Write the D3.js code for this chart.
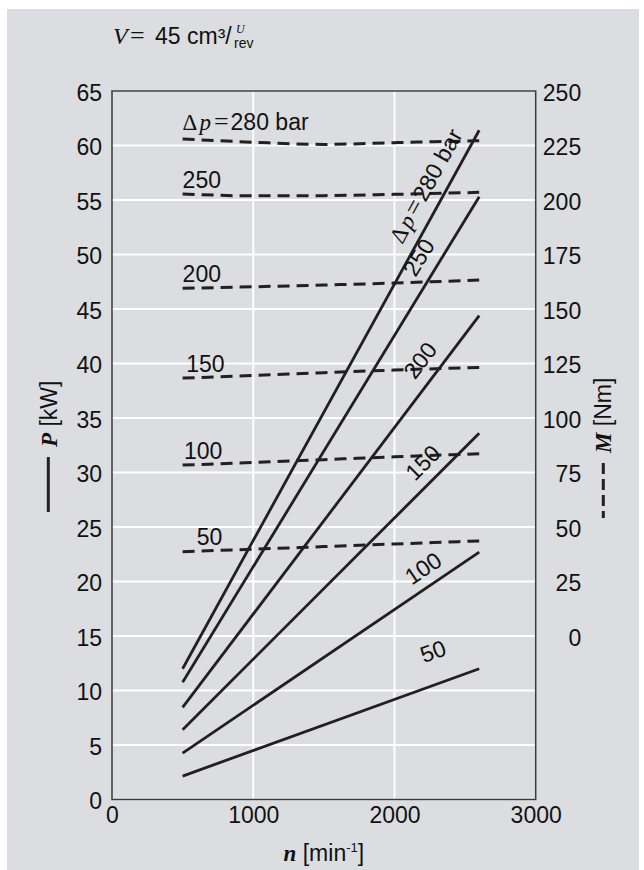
<!DOCTYPE html>
<html>
<head>
<meta charset="utf-8">
<script src="https://cdn.jsdelivr.net/npm/d3@7"></script>
<style>
  html, body { margin: 0; padding: 0; background: #ffffff; }
  svg { display: block; }
</style>
</head>
<body>
<script>
// ---------------- DATA ----------------
const nTicks = [0, 1000, 2000, 3000];
const pTicks = [0, 5, 10, 15, 20, 25, 30, 35, 40, 45, 50, 55, 60, 65];
const mTicks = [0, 25, 50, 75, 100, 125, 150, 175, 200, 225, 250];
const pressures = [280, 250, 200, 150, 100, 50];

// Power P [kW] (solid), at n = 500 and n = 2600
const powerN = [500, 2600];
const power280 = [12.0, 61.4];
const power250 = [10.75, 55.3];
const power200 = [8.45, 44.4];
const power150 = [6.4, 33.6];
const power100 = [4.25, 22.7];
const power50 = [2.15, 12.0];

// Torque M [Nm] (dashed)
const torqueN = [500, 1000, 1500, 2000, 2600];
const torque280 = [228.0, 226.5, 225.5, 226.3, 227.2];
const torque250 = [202.8, 201.9, 202.0, 202.6, 203.5];
const torque200 = [159.5, 160.2, 161.0, 161.9, 163.3];
const torque150 = [118.3, 119.5, 120.8, 122.0, 123.2];
const torque100 = [78.4, 79.6, 80.9, 82.2, 83.6];
const torque50 = [38.7, 39.8, 41.0, 42.2, 43.6];

const powerSeries = [power280, power250, power200, power150, power100, power50];
const torqueSeries = [torque280, torque250, torque200, torque150, torque100, torque50];

// label anchors (n along the curve)
const torqueLabelN = [500, 500, 500, 525, 510, 600];
const powerLabelN = [2130, 2222, 2213, 2200, 2162, 2265];
const powerLabelOff = [12, 12, 12, 11, 10, 24];

// ---------------- LAYOUT ----------------
const W = 644, H = 870;
const sans = "'Liberation Sans', Arial, Helvetica, sans-serif";
const serif = "'Liberation Serif', 'Times New Roman', Times, serif";
const FS = 23;
const ink = "#231f20";

const svg = d3.select("body").append("svg").attr("width", W).attr("height", H);
svg.append("rect").attr("x", 7).attr("y", 9).attr("width", 632).attr("height", H - 9).attr("fill", "#dcdde0");

const x = d3.scaleLinear().domain([0, 3000]).range([112, 535.7]);
const yP = d3.scaleLinear().domain([0, 65]).range([799.5, 91]);
const yM = d3.scaleLinear().domain([0, 250]).range([yP(15), yP(65)]);

// grid
const grid = svg.append("g");
grid.selectAll("line.h").data(pTicks).join("line")
  .attr("x1", x(0)).attr("x2", x(3000))
  .attr("y1", d => yP(d)).attr("y2", d => yP(d))
  .attr("stroke", "#ffffff").attr("stroke-width", 2);
grid.selectAll("line.v").data(nTicks.slice(1, 3)).join("line")
  .attr("class", "v")
  .attr("x1", d => x(d)).attr("x2", d => x(d))
  .attr("y1", yP(0)).attr("y2", yP(65))
  .attr("stroke", "#ffffff").attr("stroke-width", 2);

// frame
svg.append("rect").attr("x", x(0)).attr("y", yP(65))
  .attr("width", x(3000) - x(0)).attr("height", yP(0) - yP(65))
  .attr("fill", "none").attr("stroke", "#3a3a3a").attr("stroke-width", 1.5);

// axes
function styleAxis(g) {
  g.select(".domain").remove();
  g.selectAll("text").attr("font-family", sans).attr("font-size", FS).attr("fill", "#111");
}
svg.append("g").attr("transform", `translate(${x(0)},0)`)
  .call(d3.axisLeft(yP).tickValues(pTicks).tickSize(0).tickPadding(10).tickFormat(d3.format("d")))
  .call(styleAxis)
  .call(g => g.selectAll("text").attr("dy", "0.4em"));

svg.append("g").attr("transform", `translate(${x(3000)},0)`)
  .call(d3.axisRight(yM).tickValues(mTicks).tickSize(0).tickPadding(10).tickFormat(d3.format("d")))
  .call(styleAxis)
  .call(g => g.selectAll("text").attr("text-anchor", "end").attr("x", 45.5).attr("dy", "0.4em"));

svg.append("g").attr("transform", `translate(0,${yP(0)})`)
  .call(d3.axisBottom(x).tickValues(nTicks).tickSize(0).tickPadding(7).tickFormat(d3.format("d")))
  .call(styleAxis);

// curves
const solidLine = d3.line().x((d, i) => x(powerN[i])).y(d => yP(d));
const dashLine = d3.line().x((d, i) => x(torqueN[i])).y(d => yM(d)).curve(d3.curveMonotoneX);

svg.append("g").selectAll("path").data(torqueSeries).join("path")
  .attr("d", d => dashLine(d))
  .attr("fill", "none").attr("stroke", ink).attr("stroke-width", 3)
  .attr("stroke-dasharray", "12,7");

svg.append("g").selectAll("path").data(powerSeries).join("path")
  .attr("d", d => solidLine(d))
  .attr("fill", "none").attr("stroke", ink).attr("stroke-width", 2.8);

function dpLabel(t, value) {
  t.append("tspan").attr("font-family", serif).text("Δ");
  t.append("tspan").attr("font-family", serif).attr("font-style", "italic").attr("dx", 2).text("p");
  t.append("tspan").attr("font-family", serif).attr("dx", 3).attr("font-size", FS + 3).text("=");
  t.append("tspan").attr("font-family", sans).attr("dx", 2).text(value + " bar");
}

// torque labels (horizontal)
pressures.forEach((p, i) => {
  const n = torqueLabelN[i];
  const ser = torqueSeries[i];
  const mAt = d3.scaleLinear().domain(torqueN).range(ser)(n);
  const off = i === 0 ? 9 : 6;
  const t = svg.append("text")
    .attr("x", x(n)).attr("y", yM(mAt) - off)
    .attr("font-family", sans).attr("font-size", FS).attr("fill", "#111");
  if (i === 0) dpLabel(t, p); else t.text(p);
});

// power labels (rotated along lines)
pressures.forEach((p, i) => {
  const ser = powerSeries[i];
  const x0 = x(powerN[0]), y0 = yP(ser[0]), x1 = x(powerN[1]), y1 = yP(ser[1]);
  const dx = x1 - x0, dy = y1 - y0, len = Math.hypot(dx, dy);
  const ux = dx / len, uy = dy / len;
  const nx = uy, ny = -ux; // normal towards upper-left
  const n = powerLabelN[i];
  const fx = x(n), fy = y0 + (fx - x0) * dy / dx;
  const off = powerLabelOff[i];
  const bx = fx + nx * off, by = fy + ny * off;
  const ang = Math.atan2(dy, dx) * 180 / Math.PI;
  const t = svg.append("text")
    .attr("transform", `translate(${bx},${by}) rotate(${ang})`)
    .attr("font-family", sans).attr("font-size", FS).attr("fill", "#111");
  if (i === 0) dpLabel(t, p); else t.text(p);
});

// title
const title = svg.append("text").attr("y", 44).attr("fill", "#111");
title.append("tspan").attr("x", 113).attr("font-family", serif).attr("font-style", "italic").attr("font-size", 24).text("V");
title.append("tspan").attr("x", 130).attr("font-family", serif).attr("font-size", 26).text("=");
title.append("tspan").attr("x", 155).attr("font-family", sans).attr("font-size", 23).text("45 cm³/");
svg.append("text").attr("x", 236).attr("y", 33).attr("font-family", serif).attr("font-style", "italic")
  .attr("font-size", 12).attr("fill", "#111").text("U");
svg.append("text").attr("x", 234).attr("y", 47.5).attr("font-family", sans)
  .attr("font-size", 14).attr("fill", "#111").text("rev");

// x axis title
const xt = svg.append("text").attr("x", (x(0) + x(3000)) / 2).attr("y", 861)
  .attr("text-anchor", "middle").attr("font-size", FS).attr("fill", "#111");
xt.append("tspan").attr("font-family", serif).attr("font-style", "italic").attr("font-weight", "bold").text("n");
xt.append("tspan").attr("font-family", sans).text(" [min");
xt.append("tspan").attr("font-family", sans).attr("font-size", 13).attr("dy", -9).text("-1");
xt.append("tspan").attr("font-family", sans).attr("dy", 9).text("]");

// left axis title
const lt = svg.append("text").attr("transform", "translate(56.5,447) rotate(-90)")
  .attr("font-size", FS).attr("fill", "#111");
lt.append("tspan").attr("font-family", serif).attr("font-style", "italic").attr("font-weight", "bold").text("P");
lt.append("tspan").attr("font-family", sans).text(" [kW]");
svg.append("line").attr("x1", 48.3).attr("x2", 48.3).attr("y1", 457).attr("y2", 512)
  .attr("stroke", ink).attr("stroke-width", 3);

// right axis title
const rt = svg.append("text").attr("transform", "translate(610.7,453) rotate(-90)")
  .attr("font-size", FS).attr("fill", "#111");
rt.append("tspan").attr("font-family", serif).attr("font-style", "italic").attr("font-weight", "bold").text("M");
rt.append("tspan").attr("font-family", sans).text(" [Nm]");
svg.append("line").attr("x1", 603.3).attr("x2", 603.3).attr("y1", 463).attr("y2", 518)
  .attr("stroke", ink).attr("stroke-width", 3).attr("stroke-dasharray", "11,5");
</script>
</body>
</html>
